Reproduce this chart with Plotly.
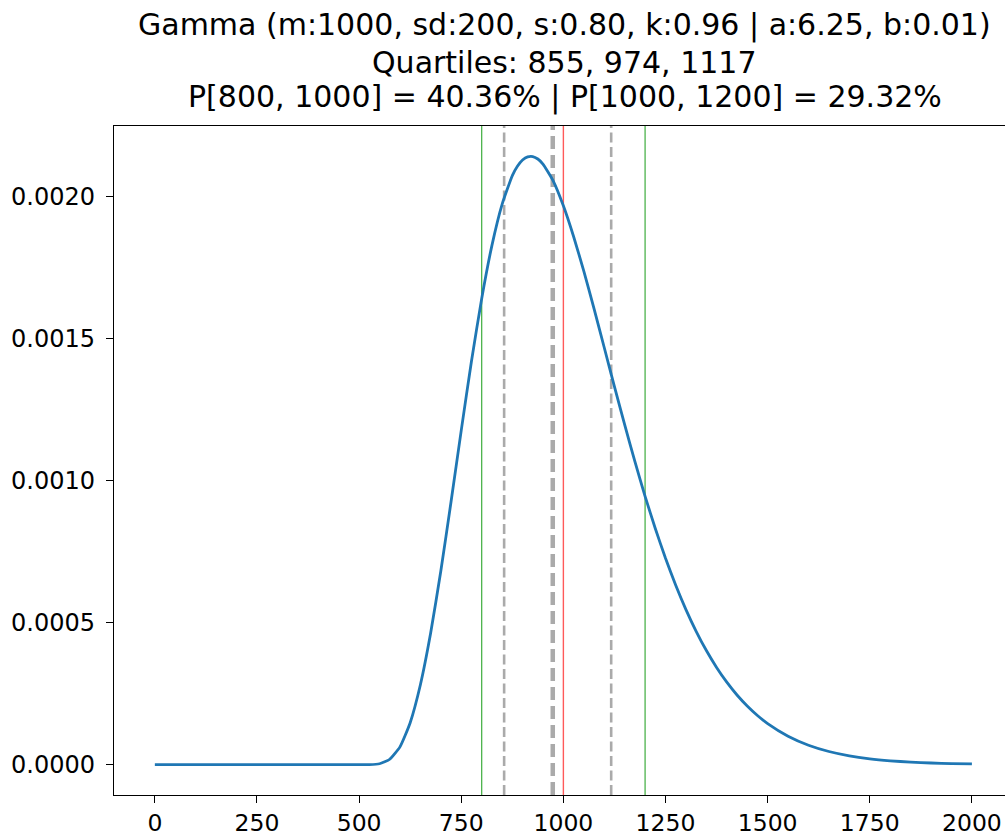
import plotly.graph_objects as go

# Density curve
x_vals = [0, 250, 500, 525, 550, 575, 600, 625, 650, 675, 700, 725, 750, 775, 800,
          825, 850, 875, 887.5, 900, 912.5, 925, 937.5, 950, 975, 1000, 1025, 1050, 1075,
          1100, 1125, 1150, 1175, 1200, 1225, 1250, 1275, 1300, 1325, 1350, 1375, 1400,
          1425, 1450, 1475, 1500, 1550, 1600, 1650, 1700, 1750, 1800, 1850, 1900, 1950, 2000]
pdf_vals = [0.0, 0.0, 0.0, 0.0000001, 0.0000031, 0.0000189, 0.0000625, 0.0001476,
            0.0002812, 0.0004622, 0.0006816, 0.0009255, 0.0011772, 0.0014205, 0.001641,
            0.0018277, 0.001973, 0.002074, 0.002107, 0.002129, 0.0021402, 0.0021415,
            0.0021328, 0.002115, 0.002056,
            0.001968, 0.00186, 0.001738, 0.001606, 0.001469, 0.0013313, 0.001197,
            0.001068, 0.000945, 0.0008315, 0.0007269, 0.0006316, 0.000546, 0.0004695,
            0.0004017, 0.0003422, 0.0002903, 0.0002452, 0.0002064, 0.000173, 0.0001446,
            0.0001, 0.0000683, 0.0000462, 0.0000309, 0.0000205, 0.0000135, 0.0000088,
            0.0000057, 0.0000037, 0.0000023]

interval_bounds = [800, 1200]
mean_value = 1000
quartiles = [855, 974, 1117]

x_ticks = [0, 250, 500, 750, 1000, 1250, 1500, 1750, 2000]
y_ticks = [0.0, 0.0005, 0.0010, 0.0015, 0.0020]

title_lines = [
    "Gamma (m:1000, sd:200, s:0.80, k:0.96 | a:6.25, b:0.01)",
    "Quartiles: 855, 974, 1117",
    "P[800, 1000] = 40.36% | P[1000, 1200] = 29.32%",
]

FONT = "DejaVu Sans"

fig = go.Figure()
fig.add_trace(go.Scatter(x=x_vals, y=pdf_vals, mode="lines",
                         line=dict(color="#1f77b4", width=2.8, shape="spline", smoothing=0.5),
                         hoverinfo="skip", showlegend=False))

shapes = []
for xb in interval_bounds:
    shapes.append(dict(type="line", xref="x", yref="paper", x0=xb, x1=xb, y0=0, y1=1,
                       layer="below", line=dict(color="#4cb24c", width=1.3)))
shapes.append(dict(type="line", xref="x", yref="paper", x0=mean_value, x1=mean_value,
                   y0=0, y1=1, layer="below", line=dict(color="#ff5a5a", width=1.4)))
for i, q in enumerate(quartiles):
    if i == 1:
        shapes.append(dict(type="line", xref="x", yref="paper", x0=q, x1=q, y0=0, y1=1,
                           layer="below",
                           line=dict(color="#aaaaaa", width=4.5, dash="13px,6px")))
    else:
        shapes.append(dict(type="line", xref="x", yref="paper", x0=q, x1=q, y0=0, y1=1,
                           layer="below",
                           line=dict(color="#aaaaaa", width=2.6, dash="10px,4.5px")))

title_shifts = [101, 64, 29]
annotations = [dict(text=t, xref="x", yref="paper", x=1003, y=1, xanchor="center",
                    yanchor="middle", yshift=s, showarrow=False,
                    font=dict(family=FONT, size=30, color="black"))
               for t, s in zip(title_lines, title_shifts)]

fig.update_layout(
    width=1005, height=837,
    margin=dict(l=114, r=0, t=126, b=42, pad=0),
    paper_bgcolor="white", plot_bgcolor="white",
    font=dict(family=FONT, color="black", size=23.5),
    shapes=shapes,
    annotations=annotations,
    xaxis=dict(range=[-100, 2081], tickvals=x_ticks,
               ticktext=[str(v) for v in x_ticks],
               showgrid=False, zeroline=False, showline=True, linecolor="black",
               linewidth=1.4, mirror=True, ticks="outside", ticklen=7, tickwidth=1.4,
               tickcolor="black", tickfont=dict(family=FONT, size=23.5, color="black")),
    yaxis=dict(range=[-0.000107, 0.002249], tickvals=y_ticks,
               ticktext=[f"{v:.4f}" for v in y_ticks],
               showgrid=False, zeroline=False, showline=True, linecolor="black",
               linewidth=1.4, mirror=False, ticks="outside", ticklen=7, tickwidth=1.4,
               ticklabelstandoff=6,
               tickcolor="black", tickfont=dict(family=FONT, size=24, color="black")),
)

fig.write_html("out.html")
